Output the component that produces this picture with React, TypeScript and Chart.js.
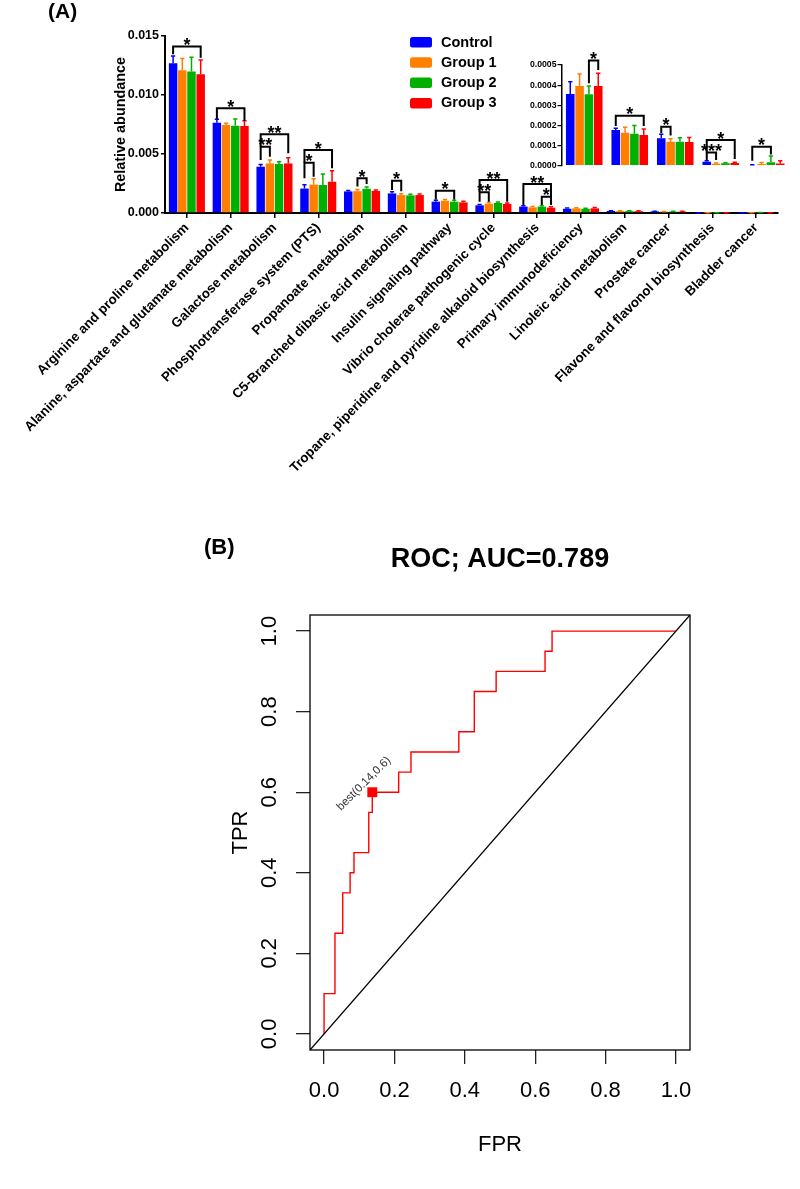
import React, { useEffect, useRef } from "react";
import { Chart, registerables } from "chart.js";

Chart.register(...registerables);

const FONT = "'Liberation Sans', Arial, Helvetica, sans-serif";

// ---------- Panel A data ----------
const categories = [
  "Arginine and proline metabolism",
  "Alanine, aspartate and glutamate metabolism",
  "Galactose metabolism",
  "Phosphotransferase system (PTS)",
  "Propanoate metabolism",
  "C5-Branched dibasic acid metabolism",
  "Insulin signaling pathway",
  "Vibrio cholerae pathogenic cycle",
  "Tropane, piperidine and pyridine alkaloid biosynthesis",
  "Primary immunodeficiency",
  "Linoleic acid metabolism",
  "Prostate cancer",
  "Flavone and flavonol biosynthesis",
  "Bladder cancer",
];

const groupNames = ["Control", "Group 1", "Group 2", "Group 3"];
const groupColors = ["#0000ff", "#ff8000", "#00b000", "#ff0000"];

const controlValues = [0.01269, 0.00765, 0.00392, 0.00207, 0.00183, 0.00166, 0.00096, 0.00065, 0.00054, 0.000356, 0.000177, 0.000136, 0.00002, 0.000003];
const group1Values = [0.0121, 0.00746, 0.0042, 0.0024, 0.00185, 0.00152, 0.00104, 0.00079, 0.00048, 0.000396, 0.000164, 0.000119, 0.00001, 0.000009];
const group2Values = [0.012, 0.0074, 0.00415, 0.00237, 0.00205, 0.00149, 0.00096, 0.00085, 0.00054, 0.000355, 0.000159, 0.000119, 0.000012, 0.000017];
const group3Values = [0.01175, 0.00737, 0.0042, 0.00265, 0.00187, 0.00152, 0.0009, 0.00077, 0.00045, 0.000396, 0.000153, 0.000118, 0.000013, 0.000011];

const controlErrors = [0.00061, 0.00029, 0.0002, 0.00033, 0.00007, 0.00014, 0.00011, 0.00007, 0.00008, 0.000061, 0.000009, 0.00002, 0.000005, 0.000002];
const group1Errors = [0.001, 0.00014, 0.0003, 0.0005, 0.00015, 0.00011, 0.00011, 0.00009, 0.00008, 0.000059, 0.000027, 0.000015, 0.000003, 0.000007];
const group2Errors = [0.0012, 0.00056, 0.0002, 0.00093, 0.00015, 0.00009, 0.00011, 0.00009, 0.00008, 0.000041, 0.00004, 0.00002, 0.000003, 0.000031];
const group3Errors = [0.00122, 0.00045, 0.00049, 0.00093, 0.00008, 0.0001, 0.0001, 0.00008, 0.00008, 0.000063, 0.000029, 0.000022, 0.000004, 0.000014];

const groupValues = [controlValues, group1Values, group2Values, group3Values];
const groupErrors = [controlErrors, group1Errors, group2Errors, group3Errors];

const mainYTicks = [0, 0.005, 0.01, 0.015];
const insetYTicks = [0, 0.0001, 0.0002, 0.0003, 0.0004, 0.0005];
const insetStart = 9; // inset shows the last five pathways

// significance brackets: [category, groupFrom, groupTo, top, leftLegEnd, rightLegEnd, label]
const mainBrackets: any[] = [
  [0, 0, 3, 0.0141, 0.01345, 0.01315, "*"],
  [1, 0, 3, 0.00887, 0.00795, 0.0078, "*"],
  [2, 0, 3, 0.00667, 0.00562, 0.00506, "**"],
  [2, 0, 1, 0.00562, 0.0045, 0.00477, "**"],
  [3, 0, 3, 0.00534, 0.00426, 0.00379, "*"],
  [3, 0, 1, 0.00426, 0.00294, 0.00308, "*"],
  [4, 1, 2, 0.00294, 0.00225, 0.00245, "*"],
  [5, 0, 1, 0.00274, 0.00195, 0.00185, "*"],
  [6, 0, 2, 0.00189, 0.00115, 0.00115, "*"],
  [7, 0, 3, 0.0028, 0.00175, 0.00096, "**"],
  [7, 0, 1, 0.00175, 0.00096, 0.00096, "**"],
  [8, 0, 3, 0.00246, 0.00068, 0.00068, "**"],
  [8, 2, 3, 0.00138, 0.00068, 0.00068, "*"],
];
const insetBrackets: any[] = [
  [0, 2, 3, 0.000522, 0.00041, 0.000475, "*"],
  [1, 0, 3, 0.000248, 0.000197, 0.000197, "*"],
  [2, 0, 1, 0.000194, 0.000161, 0.00015, "*"],
  [3, 0, 3, 0.000128, 0.000065, 0.000033, "*"],
  [3, 0, 1, 0.000065, 0.000028, 0.000028, "***"],
  [4, 0, 2, 0.000094, 0.000025, 0.000055, "*"],
];

// ---------- Panel B data ----------
const rocFPR = [0, 0, 0.031, 0.031, 0.053, 0.053, 0.074, 0.074, 0.085, 0.085, 0.127, 0.127, 0.137, 0.137, 0.212, 0.212, 0.247, 0.247, 0.383, 0.383, 0.427, 0.427, 0.489, 0.489, 0.628, 0.628, 0.648, 0.648, 1.0];
const rocTPR = [0, 0.1, 0.1, 0.25, 0.25, 0.35, 0.35, 0.4, 0.4, 0.45, 0.45, 0.55, 0.55, 0.6, 0.6, 0.65, 0.65, 0.7, 0.7, 0.75, 0.75, 0.85, 0.85, 0.9, 0.9, 0.95, 0.95, 1.0, 1.0];
const bestPoint = { fpr: 0.137, tpr: 0.6 };
const bestLabel = "best(0.14,0.6)";
const rocTitle = "ROC; AUC=0.789";
const rocTicks = [0, 0.2, 0.4, 0.6, 0.8, 1.0];
const rocMin = -0.04;
const rocMax = 1.04;

// ---------- plugins ----------
function makeErrorBarPlugin(lineWidth: number, capRatio: number) {
  return {
    id: "errorBars",
    afterDatasetsDraw(chart: any) {
      const { ctx } = chart;
      const y = chart.scales.y;
      chart.data.datasets.forEach((ds: any, di: number) => {
        const meta = chart.getDatasetMeta(di);
        meta.data.forEach((bar: any, i: number) => {
          const v = ds.data[i];
          const e = ds.errors[i];
          const yBar = y.getPixelForValue(v);
          const yTop = y.getPixelForValue(v + e);
          const hw = (bar.width * capRatio) / 2;
          ctx.save();
          ctx.strokeStyle = ds.backgroundColor;
          ctx.lineWidth = lineWidth;
          ctx.beginPath();
          ctx.moveTo(bar.x, yBar);
          ctx.lineTo(bar.x, yTop);
          ctx.moveTo(bar.x - hw, yTop);
          ctx.lineTo(bar.x + hw, yTop);
          ctx.stroke();
          ctx.restore();
        });
      });
    },
  };
}

function makeBracketPlugin(items: any[], fontSize: number, lineWidth: number) {
  return {
    id: "brackets",
    afterDatasetsDraw(chart: any) {
      const { ctx } = chart;
      const y = chart.scales.y;
      items.forEach(([cat, a, b, top, lb, rb, label]) => {
        const xa = chart.getDatasetMeta(a).data[cat].x;
        const xb = chart.getDatasetMeta(b).data[cat].x;
        const yt = y.getPixelForValue(top);
        ctx.save();
        ctx.strokeStyle = "#000";
        ctx.lineWidth = lineWidth;
        ctx.lineJoin = "miter";
        ctx.beginPath();
        ctx.moveTo(xa, y.getPixelForValue(lb));
        ctx.lineTo(xa, yt);
        ctx.lineTo(xb, yt);
        ctx.lineTo(xb, y.getPixelForValue(rb));
        ctx.stroke();
        ctx.font = `bold ${fontSize}px ${FONT}`;
        ctx.textAlign = "center";
        ctx.textBaseline = "alphabetic";
        ctx.fillStyle = "#000";
        ctx.fillText(label, (xa + xb) / 2, yt + fontSize * 0.26);
        ctx.restore();
      });
    },
  };
}

const panelALabels = {
  id: "panelALabels",
  afterDraw(chart: any) {
    const { ctx, chartArea } = chart;
    ctx.save();
    ctx.fillStyle = "#000";
    ctx.font = `bold 21px ${FONT}`;
    ctx.textAlign = "left";
    ctx.textBaseline = "middle";
    ctx.fillText("(A)", 48, 12);
    // y title
    ctx.save();
    ctx.translate(121, (chartArea.top + chartArea.bottom) / 2);
    ctx.rotate(-Math.PI / 2);
    ctx.font = `bold 14.4px ${FONT}`;
    ctx.textAlign = "center";
    ctx.textBaseline = "middle";
    ctx.fillText("Relative abundance", 0, 0);
    ctx.restore();
    // legend
    chart.data.datasets.forEach((ds: any, i: number) => {
      const yy = 37 + i * 20.3;
      ctx.fillStyle = ds.backgroundColor;
      ctx.beginPath();
      (ctx as any).roundRect ? (ctx as any).roundRect(410, yy, 22, 10.5, 2.5) : ctx.rect(410, yy, 22, 10.5);
      ctx.fill();
      ctx.fillStyle = "#000";
      ctx.font = `bold 14.5px ${FONT}`;
      ctx.textAlign = "left";
      ctx.textBaseline = "middle";
      ctx.fillText(ds.label, 441, yy + 5.5);
    });
    ctx.restore();
  },
};

const rocDecor = {
  id: "rocDecor",
  afterDatasetsDraw(chart: any) {
    const { ctx, chartArea } = chart;
    const xs = chart.scales.x;
    const ys = chart.scales.y;
    ctx.save();
    // box
    ctx.strokeStyle = "#000";
    ctx.lineWidth = 1.3;
    ctx.strokeRect(chartArea.left, chartArea.top, chartArea.right - chartArea.left, chartArea.bottom - chartArea.top);
    // best label
    const px = xs.getPixelForValue(bestPoint.fpr);
    const py = ys.getPixelForValue(bestPoint.tpr);
    ctx.save();
    ctx.translate(px, py);
    ctx.rotate(-Math.PI / 4);
    ctx.fillStyle = "#333";
    ctx.font = `11.5px ${FONT}`;
    ctx.textAlign = "center";
    ctx.textBaseline = "middle";
    ctx.fillText(bestLabel, 0, -12);
    ctx.restore();
    // texts
    const cx = (chartArea.left + chartArea.right) / 2;
    ctx.fillStyle = "#000";
    ctx.font = `bold 22px ${FONT}`;
    ctx.textAlign = "left";
    ctx.textBaseline = "middle";
    ctx.fillText("(B)", 204, 58);
    ctx.font = `bold 27px ${FONT}`;
    ctx.textAlign = "center";
    ctx.fillText(rocTitle, cx, 70);
    ctx.font = `22px ${FONT}`;
    ctx.fillText("FPR", cx, 655);
    ctx.save();
    ctx.translate(241, (chartArea.top + chartArea.bottom) / 2);
    ctx.rotate(-Math.PI / 2);
    ctx.fillText("TPR", 0, 0);
    ctx.restore();
    ctx.restore();
  },
};

function barDatasets(start: number, end: number, catPct: number) {
  return groupNames.map((name, i) => ({
    label: name,
    data: groupValues[i].slice(start, end),
    errors: groupErrors[i].slice(start, end),
    backgroundColor: groupColors[i],
    borderWidth: 0,
    categoryPercentage: catPct,
    barPercentage: 0.92,
  }));
}

function MainChart() {
  const ref = useRef<HTMLCanvasElement>(null);
  useEffect(() => {
    const chart = new Chart(ref.current as HTMLCanvasElement, {
      type: "bar",
      data: { labels: categories, datasets: barDatasets(0, categories.length, 0.84) as any },
      options: {
        responsive: false,
        animation: false,
        layout: { padding: { top: 36, right: 22, left: 0, bottom: 0 } },
        plugins: { legend: { display: false }, tooltip: { enabled: false }, title: { display: false } },
        scales: {
          x: {
            grid: { display: true, drawOnChartArea: false, drawTicks: true, tickLength: 5, color: "#000", lineWidth: 1.5, offset: false },
            border: { display: true, color: "#000", width: 2 },
            ticks: {
              autoSkip: false,
              minRotation: 45,
              maxRotation: 45,
              color: "#000",
              padding: 2,
              font: { family: FONT, size: 13.4, weight: "bold" },
            },
            afterFit: (s: any) => {
              s.height = 267;
            },
          },
          y: {
            min: 0,
            max: 0.015,
            afterBuildTicks: (s: any) => {
              s.ticks = mainYTicks.map((v) => ({ value: v }));
            },
            ticks: {
              color: "#000",
              padding: 2,
              font: { family: FONT, size: 12.5, weight: "bold" },
              callback: (v: any) => Number(v).toFixed(3),
            },
            grid: { drawOnChartArea: false, tickLength: 4, color: "#000", lineWidth: 1.5 },
            border: { display: true, color: "#000", width: 2 },
            afterFit: (s: any) => {
              s.width = 165;
            },
          },
        },
      } as any,
      plugins: [makeErrorBarPlugin(1.5, 0.5), makeBracketPlugin(mainBrackets, 18, 2), panelALabels],
    });
    return () => chart.destroy();
  }, []);
  return <canvas ref={ref} width={800} height={480} style={{ position: "absolute", left: 0, top: 0, width: 800, height: 480 }} />;
}

function InsetChart() {
  const ref = useRef<HTMLCanvasElement>(null);
  useEffect(() => {
    const chart = new Chart(ref.current as HTMLCanvasElement, {
      type: "bar",
      data: { labels: categories.slice(insetStart), datasets: barDatasets(insetStart, categories.length, 0.82) as any },
      options: {
        responsive: false,
        animation: false,
        layout: { padding: { top: 25, right: 11, left: 0, bottom: 9.3 } },
        plugins: { legend: { display: false }, tooltip: { enabled: false } },
        scales: {
          x: { display: false },
          y: {
            min: 0,
            max: 0.0005,
            afterBuildTicks: (s: any) => {
              s.ticks = insetYTicks.map((v) => ({ value: v }));
            },
            ticks: {
              color: "#000",
              padding: 1,
              font: { family: FONT, size: 8.7, weight: "bold" },
              callback: (v: any) => Number(v).toFixed(4),
            },
            grid: { drawOnChartArea: false, tickLength: 4, color: "#000", lineWidth: 1.2 },
            border: { display: true, color: "#000", width: 1.5 },
            afterFit: (s: any) => {
              s.width = 61.5;
            },
          },
        },
      } as any,
      plugins: [makeErrorBarPlugin(1.5, 0.5), makeBracketPlugin(insetBrackets, 18, 2)],
    });
    return () => chart.destroy();
  }, []);
  return <canvas ref={ref} width={300} height={135} style={{ position: "absolute", left: 500, top: 40, width: 300, height: 135 }} />;
}

function RocChart() {
  const ref = useRef<HTMLCanvasElement>(null);
  useEffect(() => {
    const rocPoints = rocFPR.map((x, i) => ({ x, y: rocTPR[i] }));
    const axisCommon = {
      type: "linear",
      min: rocMin,
      max: rocMax,
      afterBuildTicks: (s: any) => {
        s.ticks = rocTicks.map((v) => ({ value: v }));
      },
      grid: { drawOnChartArea: false, drawTicks: true, tickLength: 14, color: "#222", lineWidth: 1.3 },
      border: { display: false },
    };
    const chart = new Chart(ref.current as HTMLCanvasElement, {
      type: "scatter",
      data: {
        datasets: [
          {
            label: "diagonal",
            data: [
              { x: rocMin, y: rocMin },
              { x: rocMax, y: rocMax },
            ],
            showLine: true,
            borderColor: "#000",
            borderWidth: 1.3,
            pointRadius: 0,
          },
          {
            label: "ROC",
            data: rocPoints,
            showLine: true,
            borderColor: "#ff0000",
            borderWidth: 1.4,
            pointRadius: 0,
          },
          {
            label: "best",
            data: [{ x: bestPoint.fpr, y: bestPoint.tpr }],
            pointStyle: "rect",
            pointRadius: 7,
            backgroundColor: "#ff0000",
            borderWidth: 0,
          },
        ] as any,
      },
      options: {
        responsive: false,
        animation: false,
        layout: { padding: { top: 125, right: 110, left: 0, bottom: 0 } },
        plugins: { legend: { display: false }, tooltip: { enabled: false } },
        scales: {
          x: {
            ...axisCommon,
            position: "bottom",
            ticks: {
              color: "#000",
              padding: 14,
              maxRotation: 0,
              font: { family: FONT, size: 22 },
              callback: (v: any) => Number(v).toFixed(1),
            },
            afterFit: (s: any) => {
              s.height = 139;
            },
          },
          y: {
            ...axisCommon,
            position: "left",
            ticks: {
              color: "#000",
              padding: 10.7,
              minRotation: 90,
              maxRotation: 90,
              crossAlign: "center",
              font: { family: FONT, size: 22 },
              callback: (v: any) => Number(v).toFixed(1),
            },
            afterFit: (s: any) => {
              s.width = 310;
            },
          },
        },
      } as any,
      plugins: [rocDecor],
    });
    return () => chart.destroy();
  }, []);
  return <canvas ref={ref} width={800} height={699} style={{ position: "absolute", left: 0, top: 490, width: 800, height: 699 }} />;
}

export default function App() {
  return (
    <div style={{ position: "absolute", left: 0, top: 0, width: 800, height: 1189, background: "#fff", overflow: "hidden" }}>
      <MainChart />
      <InsetChart />
      <RocChart />
    </div>
  );
}
